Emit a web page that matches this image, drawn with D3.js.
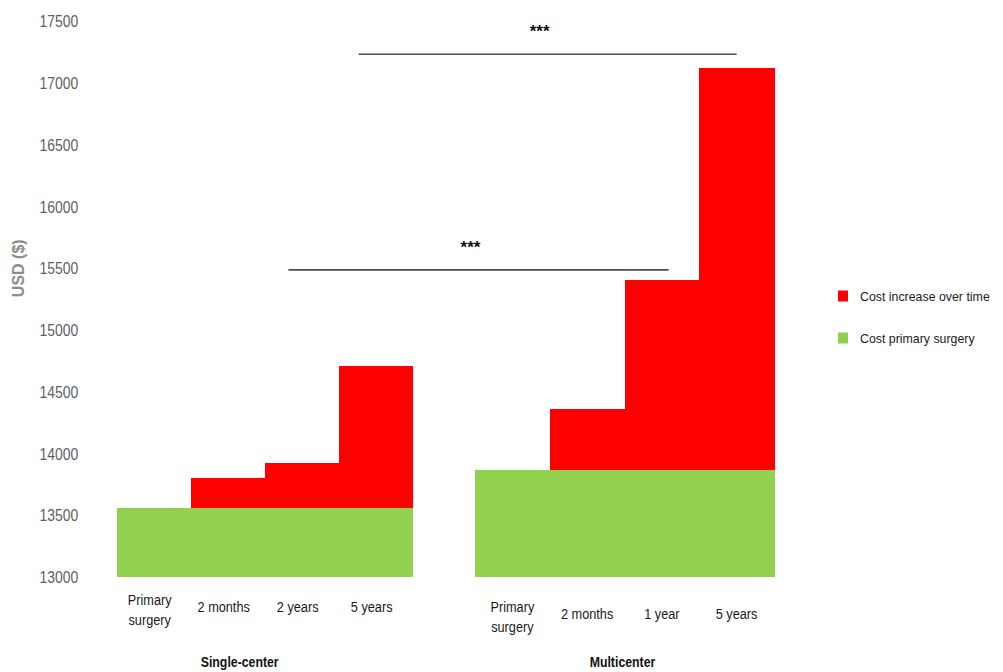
<!DOCTYPE html>
<html>
<head>
<meta charset="utf-8">
<script src="https://cdn.jsdelivr.net/npm/d3@7"></script>
<style>
  html, body { margin: 0; padding: 0; background: #ffffff; }
  svg { display: block; }
  text { font-family: "Liberation Sans", Arial, sans-serif; }
</style>
</head>
<body>
<svg id="chart" width="1003" height="672"></svg>
<script>
// ---------- data ----------
const groups = ["Single-center", "Multicenter"];
const categoriesSingle = ["Primary surgery", "2 months", "2 years", "5 years"];
const categoriesMulti = ["Primary surgery", "2 months", "1 year", "5 years"];
const primaryCostSingle = [13560, 13560, 13560, 13560];
const totalCostSingle = [13560, 13805, 13925, 14710];
const primaryCostMulti = [13865, 13865, 13865, 13865];
const totalCostMulti = [13865, 14360, 15405, 17125];
const yTicks = [13000, 13500, 14000, 14500, 15000, 15500, 16000, 16500, 17000, 17500];
const seriesNames = ["Cost increase over time", "Cost primary surgery"];
const significanceLabels = ["***", "***"];
const significanceFrom = [["Single-center", "2 years"], ["Single-center", "5 years"]];
const significanceTo = [["Multicenter", "1 year"], ["Multicenter", "5 years"]];

// ---------- layout ----------
const colors = { increase: "#ff0000", primary: "#92d050" };
const narrow = 0.82; // horizontal compression to mimic a narrow face
const svg = d3.select("#chart");
const y = d3.scaleLinear().domain([13000, 17500]).range([577, 21.5]);

const xSingle = d3.scaleBand().domain(categoriesSingle).range([116.7, 412.7]).padding(0);
const xMulti = d3.scaleBand().domain(categoriesMulti).range([475, 774]).padding(0);

function condense(sel, k) {
  sel.each(function() {
    const len = this.getComputedTextLength();
    if (len > 0) d3.select(this).attr("textLength", len * k).attr("lengthAdjust", "spacingAndGlyphs");
  });
}

const groupData = [
  { name: groups[0], x: xSingle, cats: categoriesSingle, base: primaryCostSingle, total: totalCostSingle, labelY: 605, labelDx: -4, nameDx: -25 },
  { name: groups[1], x: xMulti, cats: categoriesMulti, base: primaryCostMulti, total: totalCostMulti, labelY: 612, labelDx: 0, nameDx: -2 }
];

// ---------- y axis ----------
const yAxis = d3.axisLeft(y).tickValues(yTicks).tickSize(0).tickPadding(38.5).tickFormat(d3.format("d"));
const axisG = svg.append("g").attr("transform", "translate(116.7,0)").call(yAxis);
axisG.select(".domain").remove();
axisG.attr("font-family", null).attr("font-size", null);
axisG.selectAll("text")
  .style("font-family", "'Liberation Sans', Arial, sans-serif")
  .style("font-size", "17px")
  .attr("fill", "#5f5f5f")
  .attr("dy", "0.32em")
  .call(condense, narrow);

svg.append("text")
  .attr("transform", `translate(24, ${(y(15500) + y(15000)) / 2 - 31}) rotate(-90)`)
  .attr("text-anchor", "middle")
  .style("font-size", "16px")
  .style("font-weight", "bold")
  .attr("fill", "#8c8c8c")
  .text("USD ($)");

// ---------- bars ----------
groupData.forEach(g => {
  const gg = svg.append("g").attr("shape-rendering", "crispEdges");
  const rows = g.cats.map((c, i) => ({ cat: c, base: g.base[i], total: g.total[i] }));
  gg.selectAll("rect.primary").data(rows).join("rect")
    .attr("class", "primary")
    .attr("x", d => g.x(d.cat))
    .attr("width", g.x.bandwidth() + 0.6)
    .attr("y", d => y(d.base))
    .attr("height", d => y.range()[0] - y(d.base))
    .attr("fill", colors.primary);
  gg.selectAll("rect.increase").data(rows.filter(d => d.total > d.base)).join("rect")
    .attr("class", "increase")
    .attr("x", d => g.x(d.cat))
    .attr("width", g.x.bandwidth() + 0.6)
    .attr("y", d => y(d.total))
    .attr("height", d => y(d.base) - y(d.total))
    .attr("fill", colors.increase);

  // category labels
  const lg = svg.append("g");
  rows.forEach(d => {
    const t = lg.append("text")
      .attr("text-anchor", "middle")
      .style("font-size", "15.5px")
      .attr("fill", "#1a1a1a");
    const cx = g.x(d.cat) + g.x.bandwidth() / 2 + g.labelDx;
    const words = d.cat === "Primary surgery" ? ["Primary", "surgery"] : [d.cat];
    if (words.length === 1) {
      t.append("tspan").attr("x", cx).attr("y", g.labelY + 7).text(words[0]);
    } else {
      words.forEach((w, k) => t.append("tspan").attr("x", cx).attr("y", g.labelY + k * 20).text(w));
    }
    t.selectAll("tspan").call(condense, narrow);
  });

  // group label
  const [r0, r1] = g.x.range();
  lg.append("text")
    .attr("x", (r0 + r1) / 2 + g.nameDx)
    .attr("y", 667)
    .attr("text-anchor", "middle")
    .style("font-size", "15px")
    .style("font-weight", "bold")
    .attr("fill", "#111")
    .text(g.name)
    .call(condense, narrow);
});

// ---------- significance brackets ----------
const scaleOf = name => name === "Single-center" ? xSingle : xMulti;
const bracketY = [y(15500) + 1.5, y(17000) - 29];
const bracketFrac = [[0.32, 0.59], [0.27, 0.50]];
significanceLabels.forEach((lab, i) => {
  const sf = scaleOf(significanceFrom[i][0]);
  const st = scaleOf(significanceTo[i][0]);
  const xa = sf(significanceFrom[i][1]) + sf.bandwidth() * bracketFrac[i][0];
  const xb = st(significanceTo[i][1]) + st.bandwidth() * bracketFrac[i][1];
  const yy = bracketY[i];
  svg.append("line")
    .attr("x1", xa).attr("x2", xb).attr("y1", yy).attr("y2", yy)
    .attr("stroke", "#4d4d4d").attr("stroke-width", 1.6);
  svg.append("text")
    .attr("x", (xa + xb) / 2 - 8)
    .attr("y", yy - 17)
    .attr("text-anchor", "middle")
    .style("font-size", "17px")
    .style("font-weight", "bold")
    .attr("fill", "#111")
    .text(lab);
});

// ---------- legend ----------
const legend = svg.append("g").attr("transform", "translate(838,296)");
const legendItems = [
  { name: seriesNames[0], color: colors.increase },
  { name: seriesNames[1], color: colors.primary }
];
legendItems.forEach((it, i) => {
  const row = legend.append("g").attr("transform", `translate(0, ${i * 42})`);
  row.append("rect").attr("x", 0).attr("y", -5.5).attr("width", 10).attr("height", 11).attr("fill", it.color);
  row.append("text")
    .attr("x", 22).attr("y", 0).attr("dy", "0.35em")
    .style("font-size", "13.5px")
    .attr("fill", "#1a1a1a")
    .text(it.name)
    .call(condense, 0.915);
});
</script>
</body>
</html>
